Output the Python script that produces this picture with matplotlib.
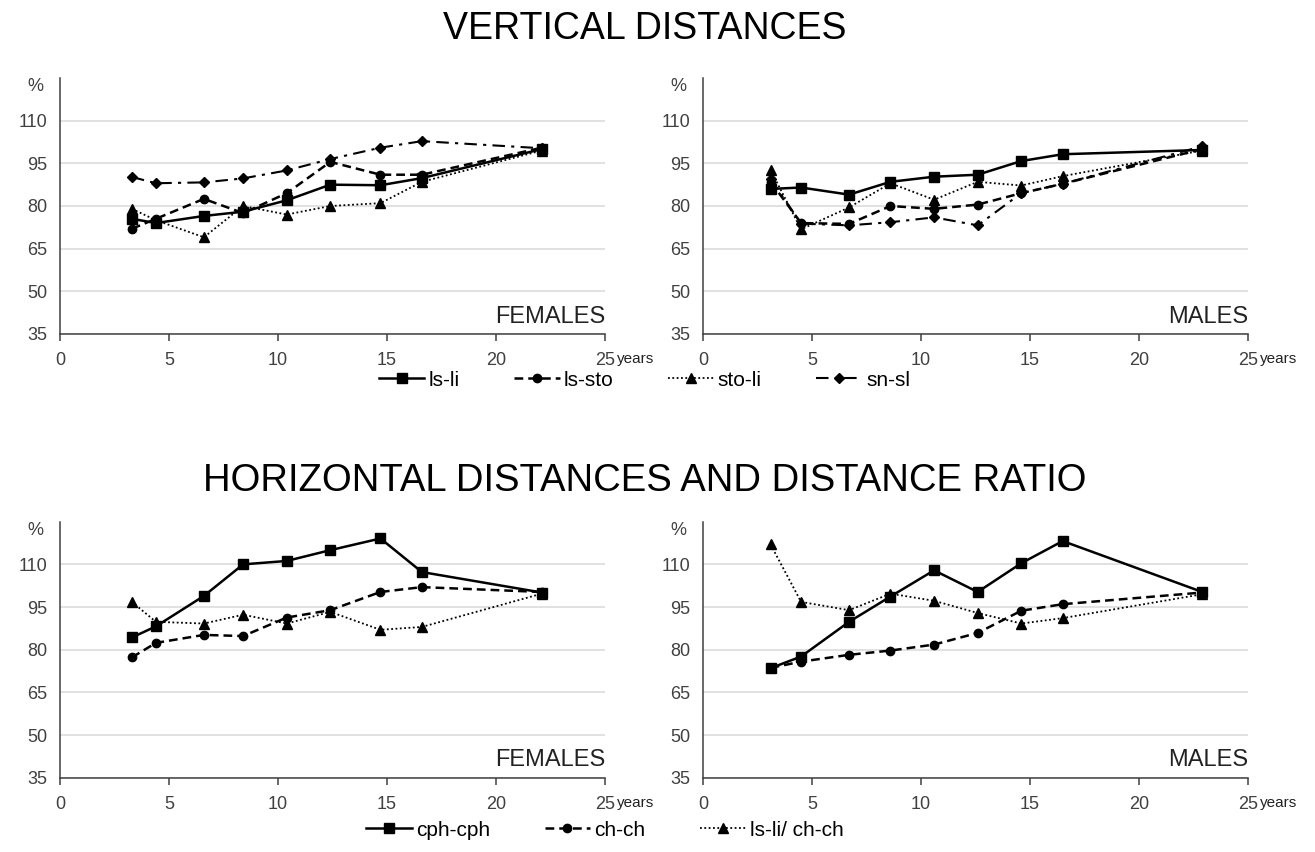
import matplotlib
matplotlib.use("Agg")
from matplotlib import pyplot as plt
from matplotlib.lines import Line2D

# ages (years)
edad_f = [3.3, 4.4, 6.6, 8.4, 10.4, 12.4, 14.7, 16.6, 22.1]
edad_m = [3.1, 4.5, 6.7, 8.6, 10.6, 12.6, 14.6, 16.5, 22.9]

# vertical distances, females
ls_li_f = [75.5, 74, 76.5, 78, 82, 87.5, 87.3, 89.8, 100]
ls_sto_f = [72, 75.5, 82.5, 77.5, 84.5, 95.5, 91, 91, 100.5]
sto_li_f = [79, 75, 69, 80, 77, 80, 81, 88.5, 99.5]
sn_sl_f = [90.2, 88, 88.3, 89.7, 92.5, 96.5, 100.5, 102.8, 100.3]

# vertical distances, males
ls_li_m = [86, 86.5, 84, 88.5, 90.3, 91, 95.8, 98.2, 99.7]
ls_sto_m = [88.5, 74, 73.7, 80, 79, 80.5, 84.5, 87.8, 100]
sto_li_m = [92.6, 71.8, 79.5, 88, 82.2, 88.5, 87.2, 90.5, 99.5]
sn_sl_m = [89.5, 73.8, 73.2, 74.3, 76, 73.2, 84.5, 87.8, 101]

# horizontal distances and ratio
cph_f = [84.3, 88.2, 98.9, 110, 111.2, 115, 119.1, 107.3, 100.1]
chch_f = [77.3, 82.4, 85.2, 84.8, 91.3, 93.9, 100.3, 102, 100.3]
ratio_f = [96.8, 89.8, 89.2, 92.3, 89.2, 93.3, 87, 88, 99.7]

cph_m = [73.5, 77.6, 89.8, 98.7, 107.9, 100.3, 110.4, 118.2, 100.3]
chch_m = [73.6, 75.8, 78.2, 79.7, 81.8, 85.9, 93.7, 96, 100.1]
ratio_m = [117, 96.8, 93.9, 99.7, 97.2, 92.9, 89.2, 91.1, 99.5]

xticks = [0, 5, 10, 15, 20, 25]
yticks = [35, 50, 65, 80, 95, 110]

plt.rcParams['font.family'] = ['Liberation Sans', 'DejaVu Sans']

estilos = {
    'solid': dict(linestyle='-', linewidth=1.8, marker='s', markersize=6.5),
    'dash': dict(linestyle=(0, (3.5, 2)), linewidth=1.8, marker='o', markersize=6),
    'dot': dict(linestyle=(0, (1, 1.4)), linewidth=1.3, marker='^', markersize=7),
    'dashdot': dict(linestyle=(0, (6, 3, 1.5, 3)), linewidth=1.5, marker='D', markersize=5.5),
}

fig = plt.figure(figsize=(13.15, 8.52), dpi=100)

izq = 60 / 1315
der = 703 / 1315
ancho = 545 / 1315
alto = 256 / 852
arriba = 1 - 334 / 852
abajo = 1 - 777.7 / 852


def preparar(ax, etiqueta):
    ax.set_xlim(0, 25)
    ax.set_ylim(35, 125)
    ax.set_xticks(xticks)
    ax.set_xticklabels(['0', '5', '10', '15', '20', '25'])
    ax.set_yticks(yticks)
    ax.grid(axis='y', color='#d9d9d9', linewidth=1.1)
    ax.set_axisbelow(True)
    for s in ['top', 'right']:
        ax.spines[s].set_visible(False)
    ax.spines['left'].set_color('#404040')
    ax.spines['bottom'].set_color('#404040')
    ax.spines['left'].set_linewidth(1.1)
    ax.spines['bottom'].set_linewidth(1.1)
    ax.tick_params(axis='x', direction='out', length=5, width=1.1, color='#404040',
                   pad=8, labelsize=13, labelcolor='#404040')
    ax.tick_params(axis='y', length=0, pad=9, labelsize=13, labelcolor='#404040')
    ax.text(25.55, -0.098, 'years', transform=ax.get_xaxis_transform(), ha='left',
            va='center', fontsize=11, color='#222222')
    ax.text(25, 39, etiqueta, ha='right', va='baseline', fontsize=17, color='#222222')
    ax.text(-0.045, 1.0, '%', transform=ax.transAxes, ha='center', va='top',
            fontsize=13, color='#404040')


ax1 = fig.add_axes([izq, arriba, ancho, alto])
ax2 = fig.add_axes([der, arriba, ancho, alto])
ax3 = fig.add_axes([izq, abajo, ancho, alto])
ax4 = fig.add_axes([der, abajo, ancho, alto])

ax1.plot(edad_f, ls_li_f, color='black', **estilos['solid'])
ax1.plot(edad_f, ls_sto_f, color='black', **estilos['dash'])
ax1.plot(edad_f, sto_li_f, color='black', **estilos['dot'])
ax1.plot(edad_f, sn_sl_f, color='black', **estilos['dashdot'])

ax2.plot(edad_m, ls_li_m, color='black', **estilos['solid'])
ax2.plot(edad_m, ls_sto_m, color='black', **estilos['dash'])
ax2.plot(edad_m, sto_li_m, color='black', **estilos['dot'])
ax2.plot(edad_m, sn_sl_m, color='black', **estilos['dashdot'])

ax3.plot(edad_f, cph_f, color='black', **estilos['solid'])
ax3.plot(edad_f, chch_f, color='black', **estilos['dash'])
ax3.plot(edad_f, ratio_f, color='black', **estilos['dot'])

ax4.plot(edad_m, cph_m, color='black', **estilos['solid'])
ax4.plot(edad_m, chch_m, color='black', **estilos['dash'])
ax4.plot(edad_m, ratio_m, color='black', **estilos['dot'])

preparar(ax1, 'FEMALES')
preparar(ax2, 'MALES')
preparar(ax3, 'FEMALES')
preparar(ax4, 'MALES')

fig.text(0.49, 0.966, 'VERTICAL DISTANCES', ha='center', va='center', fontsize=27)
fig.text(0.49, 0.4355, 'HORIZONTAL DISTANCES AND DISTANCE RATIO', ha='center',
         va='center', fontsize=27.5)

h_top = [Line2D([], [], color='black', **estilos[k]) for k in ['solid', 'dash', 'dot', 'dashdot']]
fig.legend(h_top, ['ls-li', 'ls-sto', 'sto-li', 'sn-sl'], loc='center',
           bbox_to_anchor=(0.49, 1 - 380 / 852), ncol=4, frameon=False,
           handlelength=2.2, columnspacing=2.6, handletextpad=0.2,
           prop={'size': 15})

h_bot = [Line2D([], [], color='black', **estilos[k]) for k in ['solid', 'dash', 'dot']]
fig.legend(h_bot, ['cph-cph', 'ch-ch', 'ls-li/ ch-ch'], loc='center',
           bbox_to_anchor=(0.46, 1 - 830 / 852), ncol=3, frameon=False,
           handlelength=2.2, columnspacing=2.6, handletextpad=0.2,
           prop={'size': 15})

fig.savefig('out.png', dpi=100)
